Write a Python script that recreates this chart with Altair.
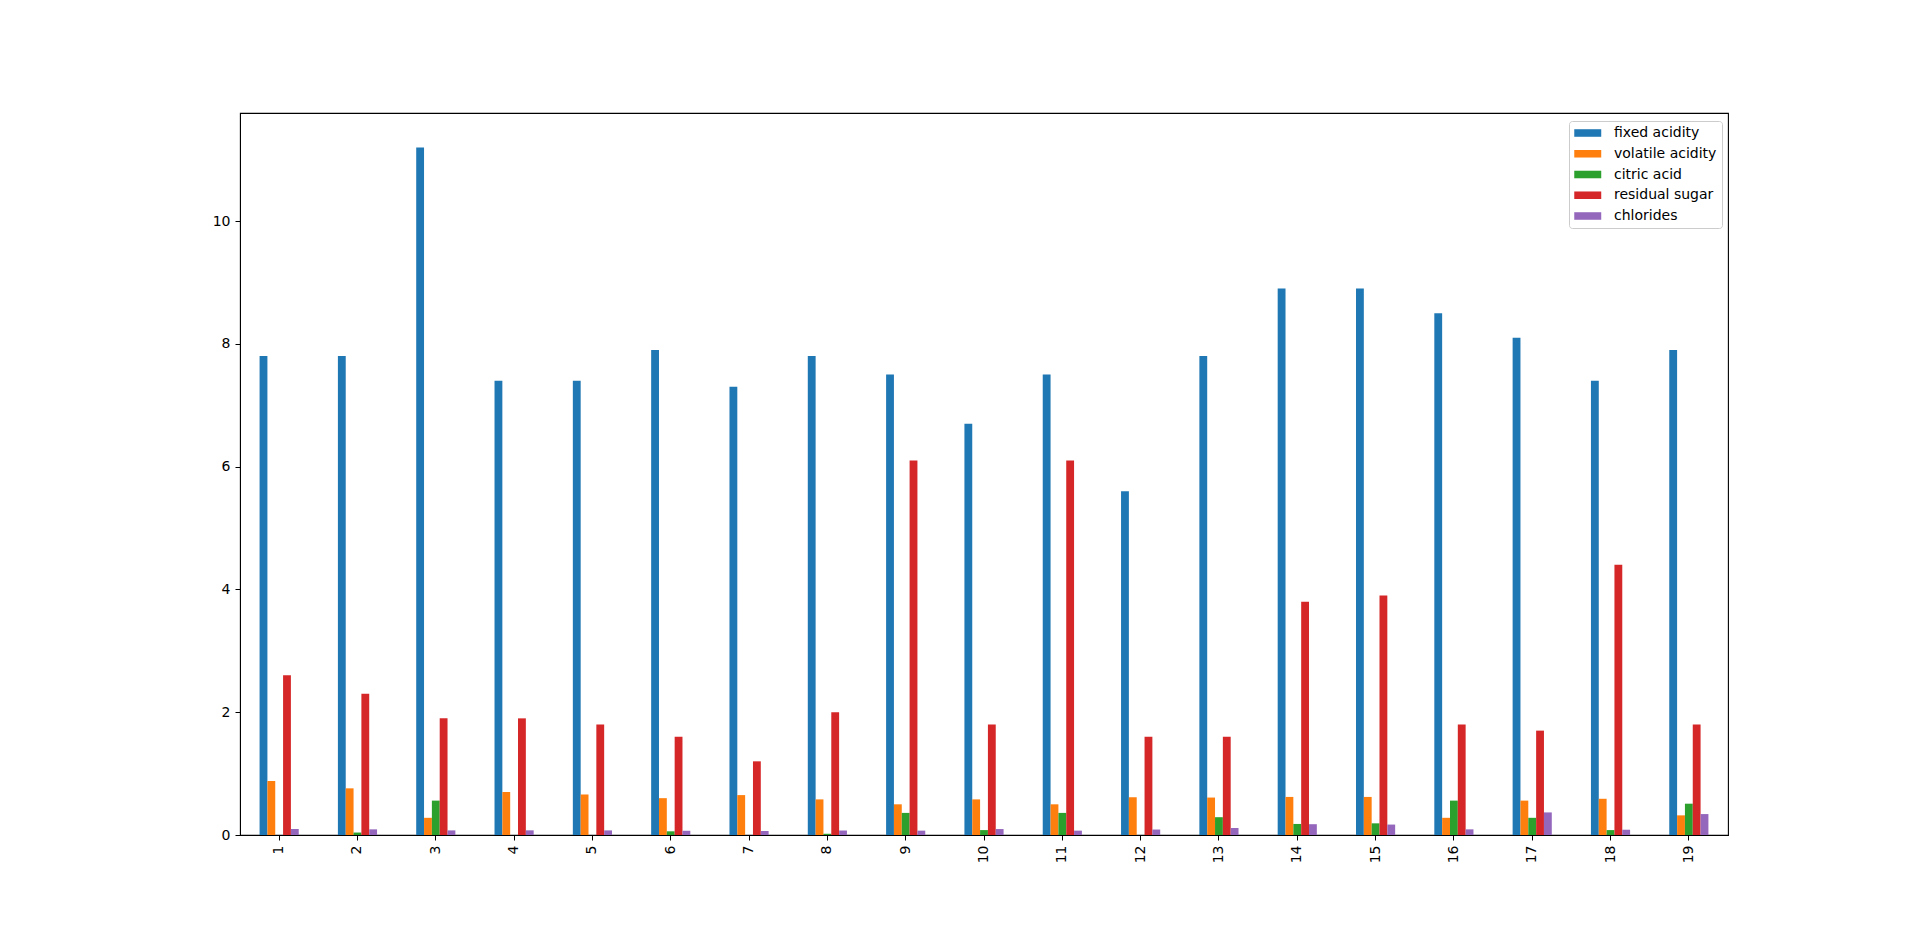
import altair as alt
import pandas as pd

labels = [str(i) for i in range(1, 20)]
series = ["fixed acidity", "volatile acidity", "citric acid", "residual sugar", "chlorides"]
fixed_acidity = [7.8, 7.8, 11.2, 7.4, 7.4, 7.9, 7.3, 7.8, 7.5, 6.7, 7.5, 5.6, 7.8, 8.9, 8.9, 8.5, 8.1, 7.4, 7.9]
volatile_acidity = [0.88, 0.76, 0.28, 0.70, 0.66, 0.60, 0.65, 0.58, 0.50, 0.58, 0.50, 0.615, 0.61, 0.62, 0.62, 0.28, 0.56, 0.59, 0.32]
citric_acid = [0.00, 0.04, 0.56, 0.00, 0.00, 0.06, 0.00, 0.02, 0.36, 0.08, 0.36, 0.00, 0.29, 0.18, 0.19, 0.56, 0.28, 0.08, 0.51]
residual_sugar = [2.6, 2.3, 1.9, 1.9, 1.8, 1.6, 1.2, 2.0, 6.1, 1.8, 6.1, 1.6, 1.6, 3.8, 3.9, 1.8, 1.7, 4.4, 1.8]
chlorides = [0.098, 0.092, 0.075, 0.076, 0.075, 0.069, 0.065, 0.073, 0.071, 0.097, 0.071, 0.089, 0.114, 0.176, 0.17, 0.092, 0.368, 0.086, 0.341]
colors = ["#1f77b4", "#ff7f0e", "#2ca02c", "#d62728", "#9467bd"]

cols = [fixed_acidity, volatile_acidity, citric_acid, residual_sugar, chlorides]
rows = []
for s, vals in zip(series, cols):
    for lab, v in zip(labels, vals):
        rows.append({"idx": lab, "variable": s, "value": v})
df = pd.DataFrame(rows)

FONT = "DejaVu Sans"
FS = 14

chart = alt.Chart(df).mark_bar().encode(
    x=alt.X("idx:N", sort=labels, title=None,
            scale=alt.Scale(paddingInner=0.5, paddingOuter=0.25),
            axis=alt.Axis(labelAngle=270, labelAlign="right", labelBaseline="middle",
                          domainColor="black", tickColor="black", tickSize=5,
                          labelPadding=5, labelFontSize=FS, labelFont=FONT,
                          labelColor="black", grid=False)),
    xOffset=alt.XOffset("variable:N", sort=series,
                        scale=alt.Scale(paddingInner=0, paddingOuter=0)),
    y=alt.Y("value:Q", title=None,
            scale=alt.Scale(domain=[0, 11.76], nice=False, zero=True),
            axis=alt.Axis(values=[0, 2, 4, 6, 8, 10], domainColor="black",
                          tickColor="black", tickSize=5, labelPadding=5,
                          labelFontSize=FS, labelFont=FONT, labelColor="black",
                          grid=False)),
    color=alt.Color("variable:N", sort=series, title=None,
                    scale=alt.Scale(domain=series, range=colors),
                    legend=alt.Legend(orient="none", legendX=1329, legendY=8,
                                      symbolType="M-1,-0.56H3V0.56H-1Z",
                                      symbolSize=182, symbolStrokeWidth=0,
                                      symbolOpacity=1, labelOffset=26,
                                      labelFontSize=FS, labelFont=FONT,
                                      labelColor="black", rowPadding=6.75,
                                      padding=5, strokeColor="#cccccc",
                                      fillColor="white", cornerRadius=3)),
).properties(
    width=1488, height=722,
    autosize=alt.AutoSizeParams(type="none"),
    padding={"left": 232, "top": 105, "right": 170, "bottom": 80},
).configure_view(
    stroke="black", strokeWidth=1.1
)

chart.save("out.html", embed_options={"renderer": "svg", "actions": False})
